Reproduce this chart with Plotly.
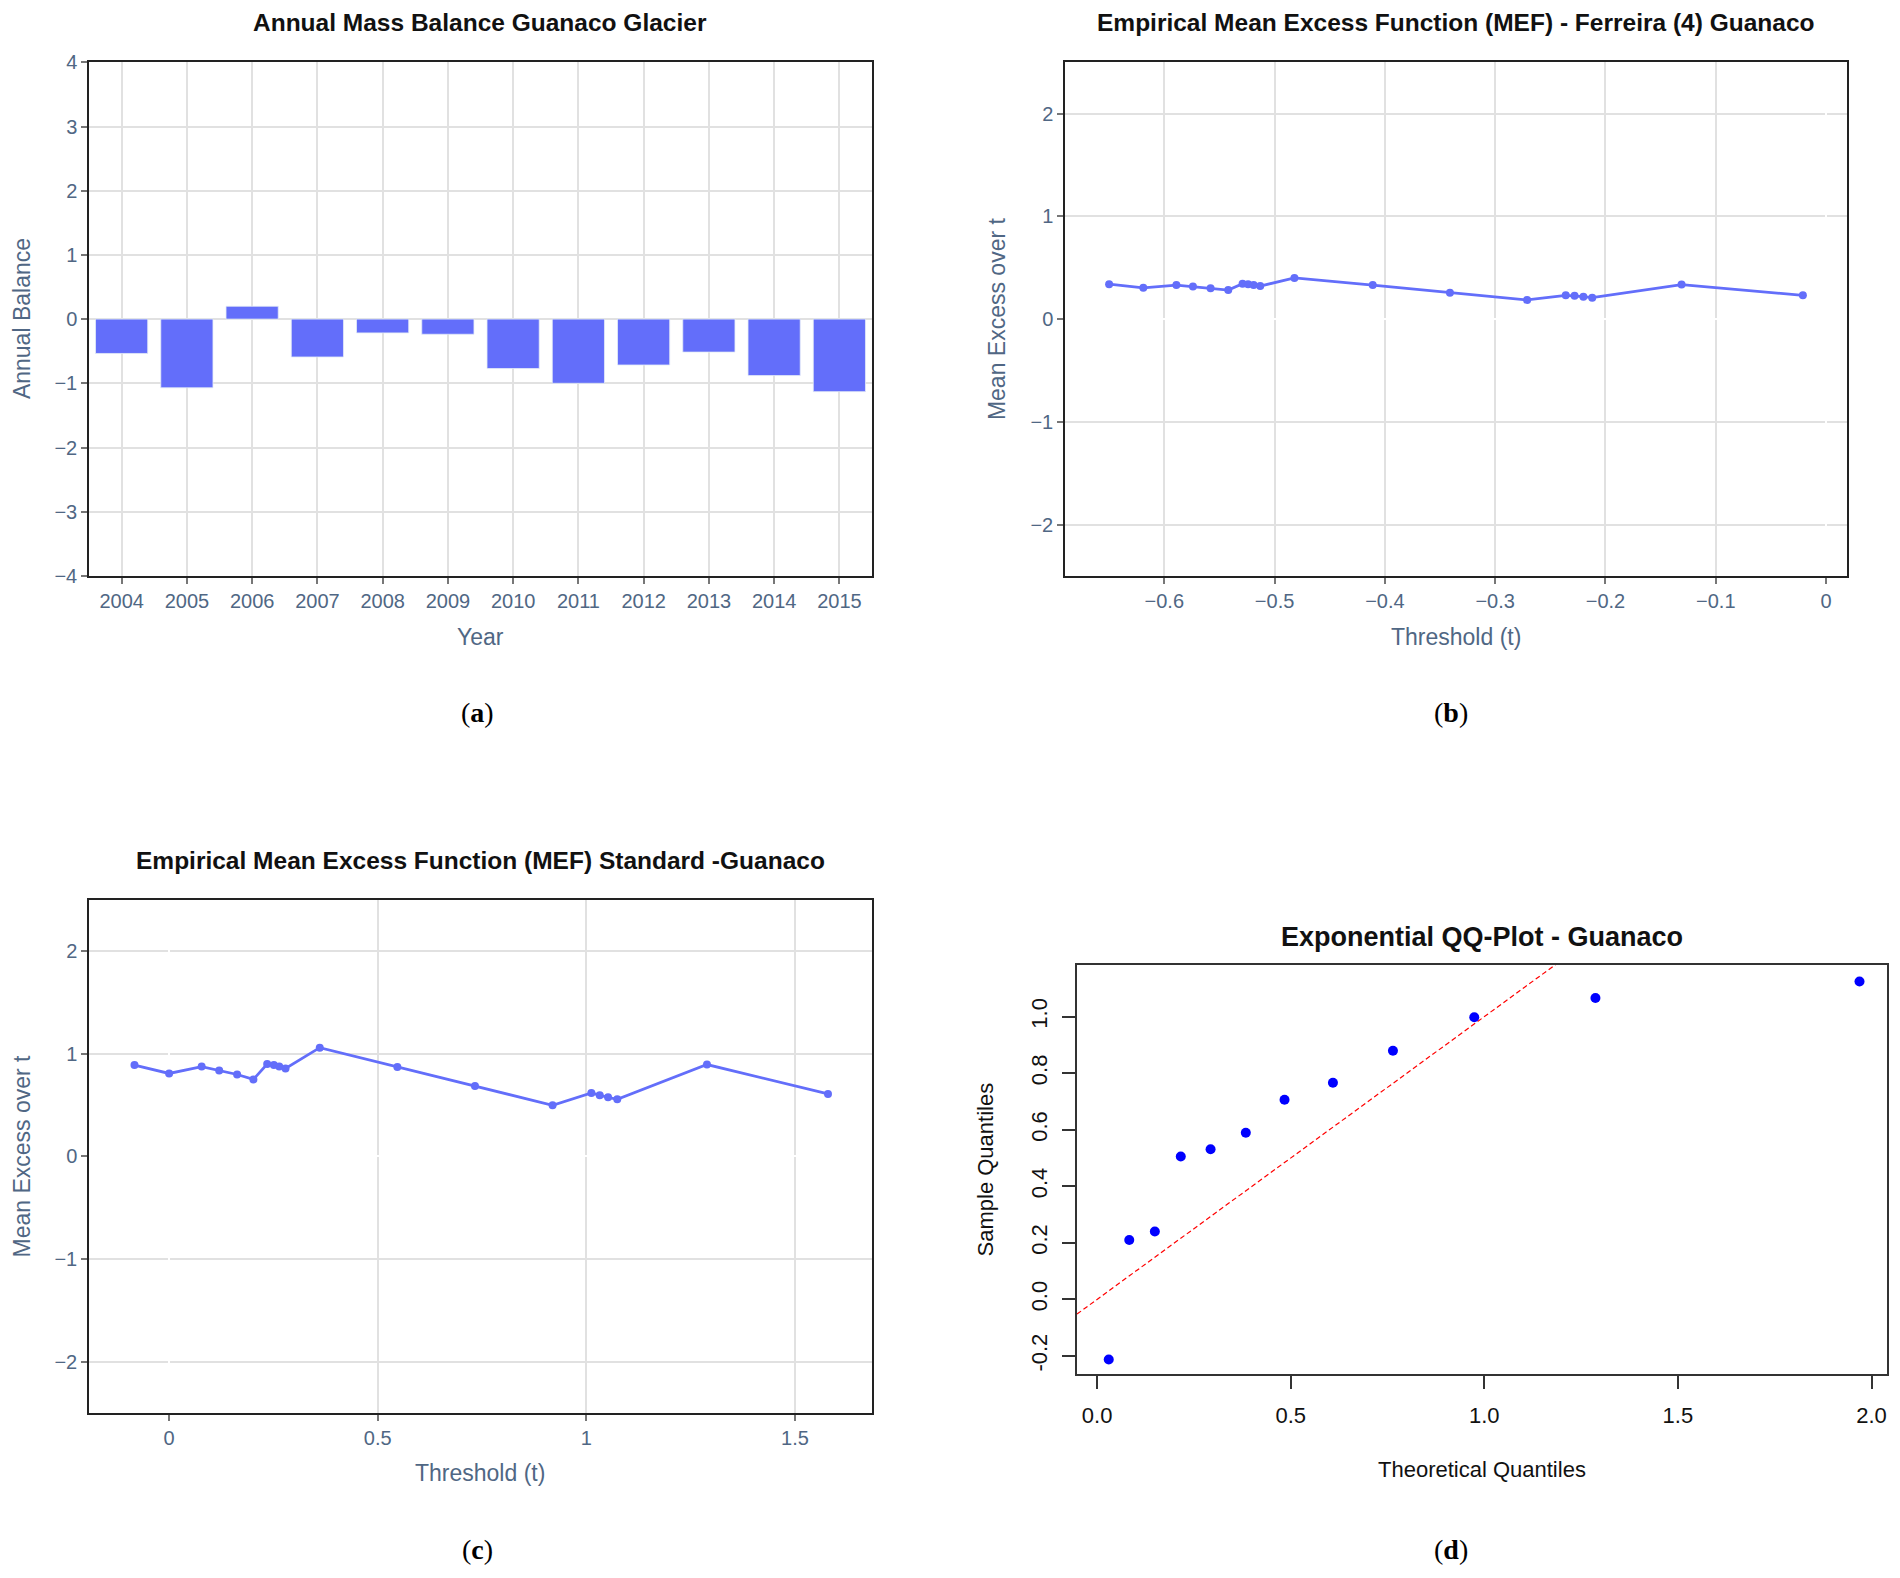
import plotly.graph_objects as go

# ---------------- data ----------------
years = [2004, 2005, 2006, 2007, 2008, 2009, 2010, 2011, 2012, 2013, 2014, 2015]
annual_balance = [-0.535, -1.07, 0.20, -0.59, -0.215, -0.236, -0.77, -1.00, -0.715, -0.514, -0.88, -1.13]

ferreira_threshold = [-0.650, -0.619, -0.589, -0.574, -0.558, -0.542, -0.529, -0.524, -0.519, -0.513,
                      -0.482, -0.411, -0.341, -0.271, -0.236, -0.228, -0.220, -0.212, -0.131, -0.021]
ferreira_mef = [0.340, 0.305, 0.331, 0.318, 0.301, 0.283, 0.344, 0.340, 0.331, 0.322,
                0.401, 0.331, 0.257, 0.187, 0.231, 0.227, 0.218, 0.209, 0.336, 0.231]

standard_threshold = [-0.083, 0.000, 0.078, 0.120, 0.163, 0.202, 0.235, 0.251, 0.264, 0.279,
                      0.361, 0.547, 0.733, 0.919, 1.012, 1.032, 1.052, 1.074, 1.289, 1.579]
standard_mef = [0.890, 0.808, 0.875, 0.837, 0.798, 0.750, 0.900, 0.890, 0.875, 0.856,
                1.059, 0.871, 0.687, 0.498, 0.619, 0.595, 0.576, 0.556, 0.895, 0.609]

qq_theoretical = [0.030, 0.083, 0.149, 0.216, 0.293, 0.384, 0.484, 0.609, 0.764, 0.974, 1.287, 1.969]
qq_sample = [-0.213, 0.210, 0.240, 0.505, 0.531, 0.589, 0.706, 0.766, 0.879, 0.998, 1.066, 1.124]
qq_line_intercept = 0.0
qq_line_slope = 1.0

qq_xticks = [0.0, 0.5, 1.0, 1.5, 2.0]
qq_xticktext = ["0.0", "0.5", "1.0", "1.5", "2.0"]
qq_yticks = [-0.2, 0.0, 0.2, 0.4, 0.6, 0.8, 1.0]
qq_yticktext = ["-0.2", "0.0", "0.2", "0.4", "0.6", "0.8", "1.0"]

titles = ["Annual Mass Balance Guanaco Glacier",
          "Empirical Mean Excess Function (MEF) - Ferreira (4) Guanaco",
          "Empirical Mean Excess Function (MEF) Standard -Guanaco",
          "Exponential QQ-Plot - Guanaco"]
panel_labels = ["a", "b", "c", "d"]

# ---------------- layout helpers ----------------
OFF = 8
W, H = 1900 - 2 * OFF, 1578 - 2 * OFF
Y_SCALE, Y_SHIFT = 1.0135, -17.9   # page-to-figure vertical calibration
def px(x):
    return (x - OFF) / W
def py(y):
    return 1 - (Y_SCALE * y + Y_SHIFT) / H

FONT = "Liberation Sans, Arial, sans-serif"
TICK_COLOR = "#506784"
GRID = "#e1e1e1"
BLUE = "#636efa"

fig = go.Figure()

# (a) bars
fig.add_trace(go.Bar(x=years, y=annual_balance, marker=dict(color=BLUE, line=dict(color="#E5ECF6", width=0.8)),
                     xaxis="x", yaxis="y", showlegend=False))
# (b)
fig.add_trace(go.Scatter(x=ferreira_threshold, y=ferreira_mef, mode="lines+markers",
                         line=dict(color=BLUE, width=2.8), marker=dict(color=BLUE, size=8),
                         xaxis="x2", yaxis="y2", showlegend=False))
# (c)
fig.add_trace(go.Scatter(x=standard_threshold, y=standard_mef, mode="lines+markers",
                         line=dict(color=BLUE, width=2.8), marker=dict(color=BLUE, size=8),
                         xaxis="x3", yaxis="y3", showlegend=False))
# (d)
qq_xrange = [-0.052, 2.040]
fig.add_trace(go.Scatter(x=qq_xrange, y=[qq_line_intercept + qq_line_slope * v for v in qq_xrange],
                         mode="lines", line=dict(color="#ff0000", width=1.2, dash="5px,3px"),
                         xaxis="x4", yaxis="y4", showlegend=False))
fig.add_trace(go.Scatter(x=qq_theoretical, y=qq_sample, mode="markers",
                         marker=dict(color="#0000ff", size=10),
                         xaxis="x4", yaxis="y4", showlegend=False))

def plotly_axis(domain, anchor, **kw):
    d = dict(domain=domain, anchor=anchor, showline=True, mirror=True, linecolor="#222222", linewidth=1.5,
             showgrid=True, gridcolor=GRID, gridwidth=1.8, zeroline=True, zerolinecolor="white", zerolinewidth=2,
             ticks="outside", ticklen=6, tickwidth=1.5, tickcolor="#777777",
             tickfont=dict(family=FONT, size=20, color=TICK_COLOR))
    d.update(kw)
    return d

def r_axis(domain, anchor, **kw):
    d = dict(domain=domain, anchor=anchor, showline=True, mirror=True, linecolor="#333333", linewidth=1.5,
             showgrid=False, zeroline=False, ticks="outside", ticklen=13, tickwidth=1.5, tickcolor="#333333",
             tickfont=dict(family=FONT, size=22, color="#111111"))
    d.update(kw)
    return d

A_X = [px(89), px(872)]; A_Y = [py(575), py(61)]
B_X = [px(1065), px(1847)]; B_Y = [py(575), py(61)]
C_X = [px(89), px(872)]; C_Y = [py(1413), py(899)]
D_X = [px(1077), px(1887)]; D_Y = [py(1374), py(964)]

fig.update_layout(
    width=W, height=H, autosize=False,
    margin=dict(l=0, r=0, t=0, b=0),
    paper_bgcolor="white", plot_bgcolor="white",
    bargap=0.2,
    xaxis=plotly_axis(A_X, "y", tickmode="array", tickvals=years, zeroline=False),
    yaxis=plotly_axis(A_Y, "x", range=[-4, 4], dtick=1, zeroline=False),
    xaxis2=plotly_axis(B_X, "y2", range=[-0.690, 0.019], dtick=0.1),
    yaxis2=plotly_axis(B_Y, "x2", range=[-2.5, 2.5], dtick=1),
    xaxis3=plotly_axis(C_X, "y3", range=[-0.192, 1.6845], dtick=0.5),
    yaxis3=plotly_axis(C_Y, "x3", range=[-2.5, 2.5], dtick=1),
    xaxis4=r_axis(D_X, "y4", range=qq_xrange, tickmode="array", tickvals=qq_xticks, ticktext=qq_xticktext,
                  ticklabelstandoff=8),
    yaxis4=r_axis(D_Y, "x4", range=[-0.265, 1.184], tickmode="array", tickvals=qq_yticks,
                  ticktext=qq_yticktext, tickangle=-90, ticklabelstandoff=6),
)

ann = []
def text(x, y, s, size, color, family=FONT, angle=0):
    ann.append(dict(x=px(x), y=py(y), xref="paper", yref="paper", text=s, showarrow=False,
                    xanchor="center", yanchor="middle", textangle=angle,
                    font=dict(family=family, size=size, color=color)))

# titles
text(480, 21, "<b>%s</b>" % titles[0], 24.5, "#111111")
text(1456, 21, "<b>%s</b>" % titles[1], 24.5, "#111111")
text(480, 860, "<b>%s</b>" % titles[2], 24.5, "#111111")
text(1482, 936, "<b>%s</b>" % titles[3], 27, "#111111")

# axis titles
text(22, 318, "Annual Balance", 23, TICK_COLOR, angle=-90)
text(480, 636, "Year", 23, TICK_COLOR)
text(997, 318, "Mean Excess over t", 23, TICK_COLOR, angle=-90)
text(1456, 636, "Threshold (t)", 23, TICK_COLOR)
text(22, 1156, "Mean Excess over t", 23, TICK_COLOR, angle=-90)
text(480, 1473, "Threshold (t)", 23, TICK_COLOR)
text(985, 1169, "Sample Quantiles", 22, "#111111", angle=-90)
text(1482, 1469, "Theoretical Quantiles", 22, "#111111")

# panel labels
SERIF = "Liberation Serif, Times New Roman, serif"
text(477, 712, "(<b>%s</b>)" % panel_labels[0], 28, "#000000", family=SERIF)
text(1451, 712, "(<b>%s</b>)" % panel_labels[1], 28, "#000000", family=SERIF)
text(477, 1549, "(<b>%s</b>)" % panel_labels[2], 28, "#000000", family=SERIF)
text(1451, 1549, "(<b>%s</b>)" % panel_labels[3], 28, "#000000", family=SERIF)

fig.update_layout(annotations=ann)
fig.write_html("out.html")
